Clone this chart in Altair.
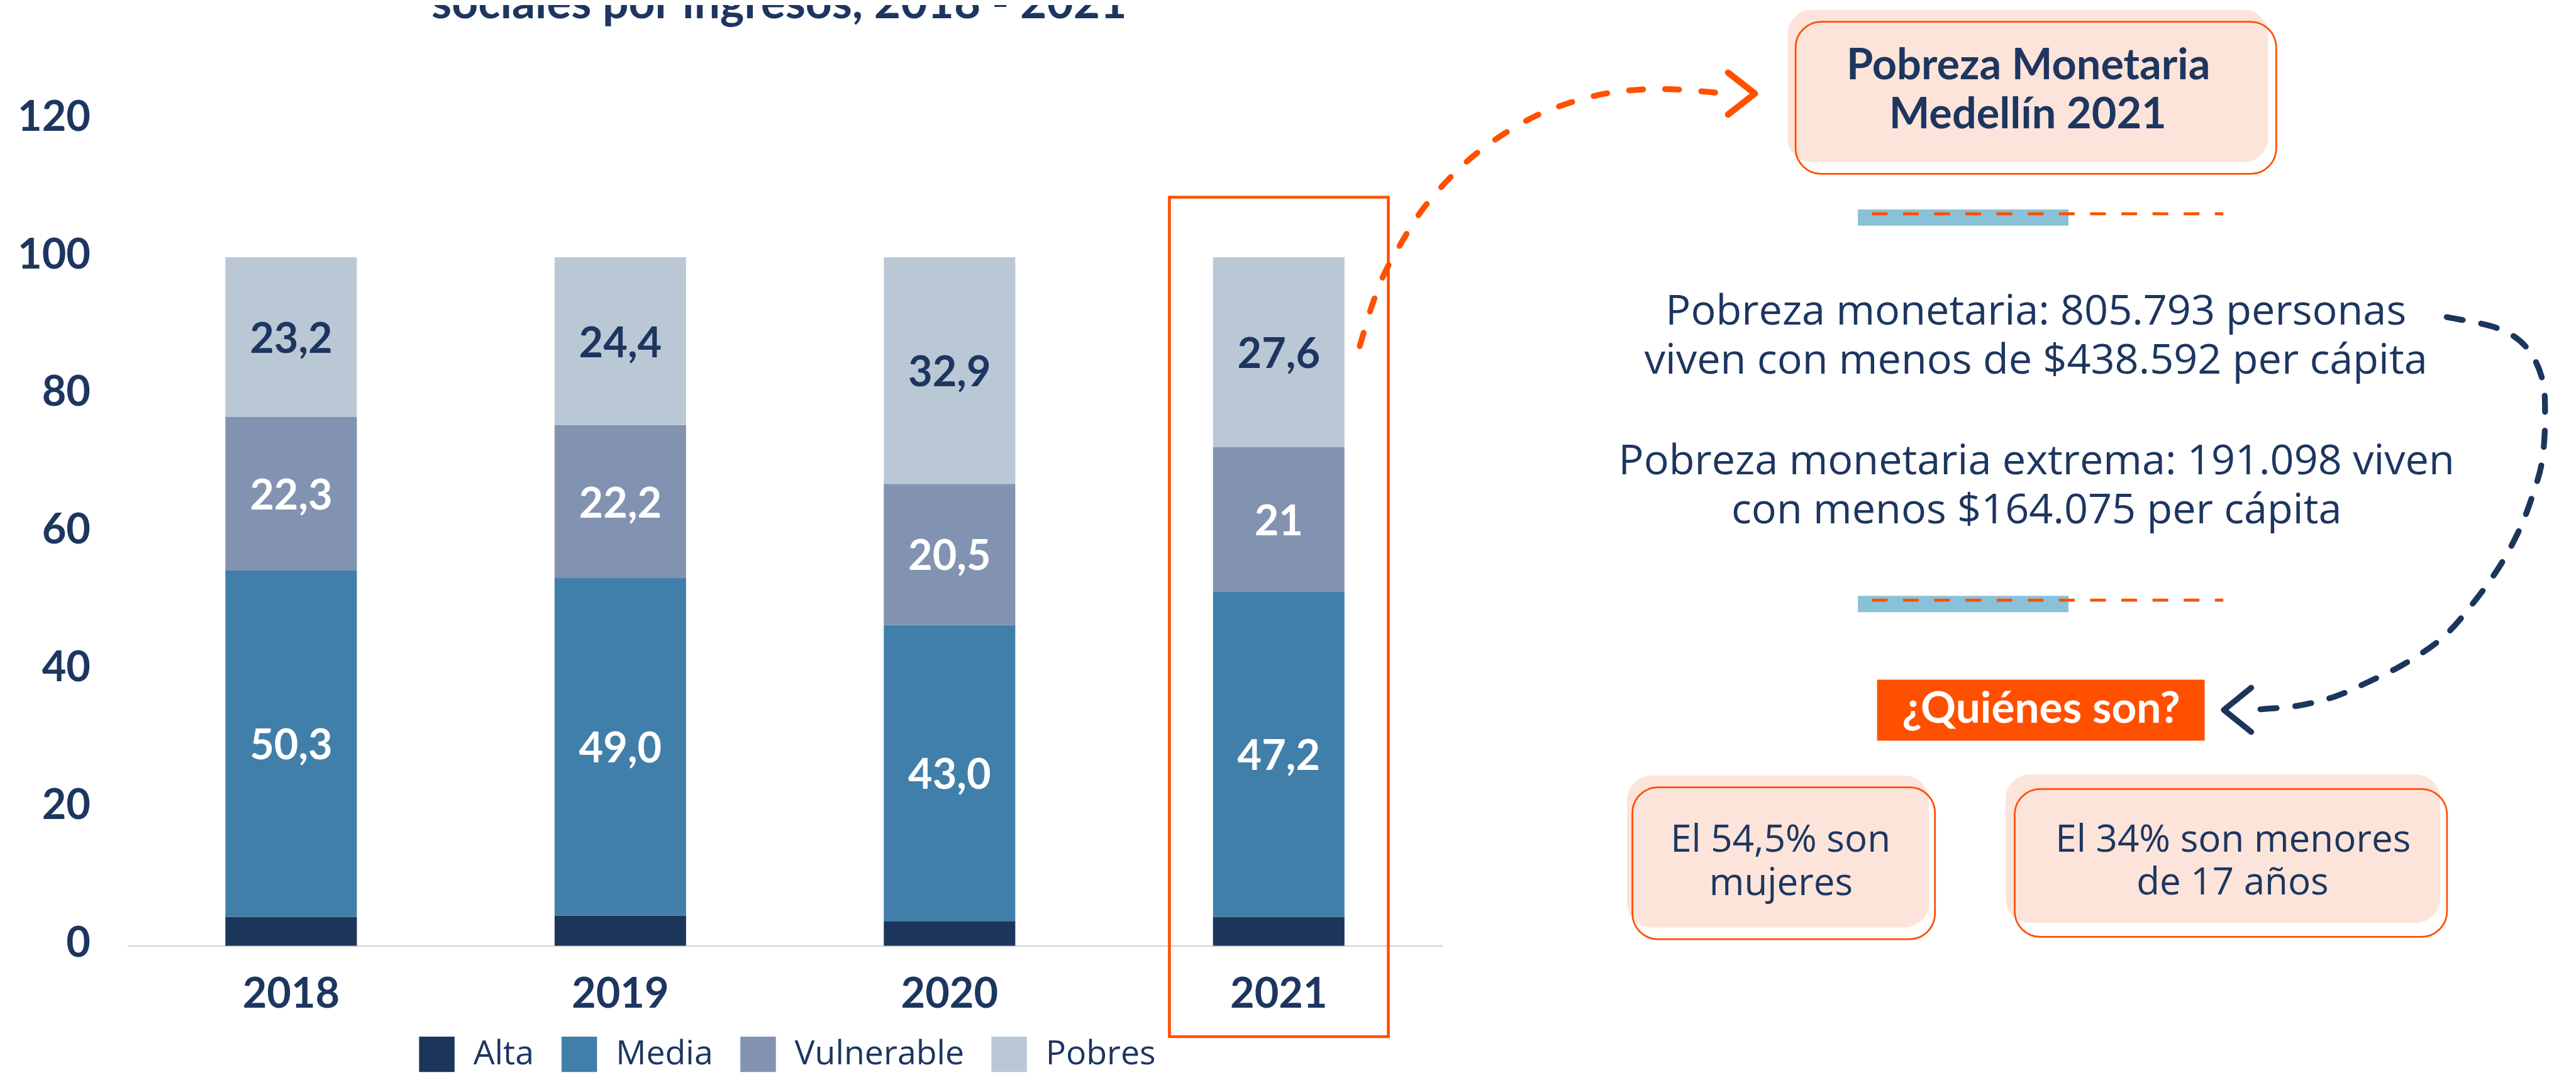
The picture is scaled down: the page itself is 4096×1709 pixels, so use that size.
import altair as alt
import pandas as pd

# ---------------- data ----------------
years = ["2018", "2019", "2020", "2021"]
categories = ["Alta", "Media", "Vulnerable", "Pobres"]
alta = [4.2, 4.4, 3.6, 4.2]
media = [50.3, 49.0, 43.0, 47.2]
vulnerable = [22.3, 22.2, 20.5, 21.0]
pobres = [23.2, 24.4, 32.9, 27.6]
alta_labels = ["", "", "", ""]
media_labels = ["50,3", "49,0", "43,0", "47,2"]
vulnerable_labels = ["22,3", "22,2", "20,5", "21"]
pobres_labels = ["23,2", "24,4", "32,9", "27,6"]
y_ticks = [0, 20, 40, 60, 80, 100, 120]

title_text = "sociales por ingresos, 2018 - 2021"
box_title = ["Pobreza Monetaria", "Medellín 2021"]
para_lines = [
    "Pobreza monetaria: 805.793 personas",
    "viven con menos de $438.592 per cápita",
    "Pobreza monetaria extrema: 191.098 viven",
    "con menos $164.075 per cápita",
]
quienes = "¿Quiénes son?"
box_left = ["El 54,5% son", "mujeres"]
box_right = ["El 34% son menores", "de 17 años"]

# ---------------- colours ----------------
NAVY = "#1c355b"
TEXT = "#1d3660"
C_MEDIA = "#417fab"
C_VULN = "#8193b0"
C_POB = "#bac8d6"
ORANGE = "#ff5000"
PEACH = "#fde4da"
LBLUE = "#89c2d8"
AXIS_GREY = "#d0d0d0"

# ---------------- geometry helpers (reference px -> chart px) ----------------
S = 0.927
PAD_L = S * 219 - 8
W = S * (2479 - 219)
H = S * 1623.3 - 8
TOTAL_W = 4088
TOTAL_H = 1701
PAD_R = TOTAL_W - PAD_L - W
PAD_B = TOTAL_H - H
UNIT = 11.83 * S  # px per value unit


def gx(X):
    return S * (X - 219)


def gy(Y):
    return S * Y - 8


def sz(v):
    return S * v


# ---------------- bar data ----------------
rows = []
series = [alta, media, vulnerable, pobres]
series_labels = [alta_labels, media_labels, vulnerable_labels, pobres_labels]
for i, yr in enumerate(years):
    for j, cat in enumerate(categories):
        rows.append(dict(year=yr, cat=cat, value=series[j][i], ord=j,
                         label=series_labels[j][i]))
df = pd.DataFrame(rows)

xscale = alt.Scale(domain=years, paddingInner=0.6006, paddingOuter=0.2975)
yscale = alt.Scale(domain=[0, H / UNIT], nice=False, zero=True)

xaxis = alt.Axis(domain=True, domainColor=AXIS_GREY, domainWidth=2, ticks=False,
                 grid=False, labelFont="Lato", labelFontWeight="bold",
                 labelFontSize=sz(72), labelColor=TEXT, labelPadding=gy(1729.5) - H,
                 labelBaseline="alphabetic", labelAngle=0, title=None)
yaxis = alt.Axis(values=y_ticks, domain=False, ticks=False, grid=False,
                 labelFont="Lato", labelFontWeight="bold", labelFontSize=sz(72),
                 labelColor=TEXT, labelPadding=PAD_L - (S * 155 - 8),
                 labelBaseline="middle", labelOffset=-3, labelFlush=False,
                 title=None)
legend = alt.Legend(orient="none", legendX=gx(720), legendY=gy(1779),
                    direction="horizontal", title=None, symbolType="square",
                    symbolSize=sz(61) ** 2, symbolStrokeWidth=0,
                    labelFont="Open Sans", labelFontSize=sz(58), labelColor=TEXT,
                    labelOffset=sz(32), columnPadding=sz(42) + 4, padding=0,
                    labelLimit=1000)

bars = alt.Chart(df).mark_bar().encode(
    x=alt.X("year:N", scale=xscale, axis=xaxis),
    y=alt.Y("value:Q", stack="zero", scale=yscale, axis=yaxis),
    color=alt.Color("cat:N", scale=alt.Scale(domain=categories,
                    range=[NAVY, C_MEDIA, C_VULN, C_POB]), legend=legend),
    order=alt.Order("ord:Q", sort="ascending"),
)

lab_base = alt.Chart(df).transform_stack(
    stack="value", groupby=["year"], as_=["v0", "v1"],
    sort=[alt.SortField("ord", order="ascending")],
).transform_calculate(mid="(datum.v0 + datum.v1) / 2")

# same axis specs as the bars so the shared axes merge cleanly
lab_enc = dict(
    x=alt.X("year:N", scale=xscale, axis=xaxis),
    y=alt.Y("mid:Q", scale=yscale, axis=yaxis),
    text="label:N",
)
labels_dark = lab_base.transform_filter("datum.cat == 'Pobres'").mark_text(
    font="Lato", fontWeight="bold", fontSize=sz(72), color=TEXT,
    baseline="middle", dy=5).encode(**lab_enc)
labels_light = lab_base.transform_filter(
    "datum.cat == 'Media' || datum.cat == 'Vulnerable'").mark_text(
    font="Lato", fontWeight="bold", fontSize=sz(72), color="white",
    baseline="middle", dy=5).encode(**lab_enc)

# ---------------- annotation helpers (pixel placed decorations) ----------------
ONE = pd.DataFrame({"k": [0]})


def rect(box, **mark):
    a, b, c, e = box
    return alt.Chart(ONE).mark_rect(**mark).encode(
        x=alt.value(gx(a)), x2=alt.value(gx(b)),
        y=alt.value(gy(c)), y2=alt.value(gy(e)))


def text(t, a, b, **mark):
    return alt.Chart(ONE).mark_text(align="center", baseline="alphabetic",
                                    **mark).encode(
        x=alt.value(gx(a)), y=alt.value(gy(b)), text=alt.value(t))


def hrule(a, b, c, **mark):
    return alt.Chart(ONE).mark_rule(**mark).encode(
        x=alt.value(gx(a)), x2=alt.value(gx(b)), y=alt.value(gy(c)))


def curve(pts, smooth=True, **mark):
    P = [(gx(a), gy(b)) for a, b in pts]
    x0, y0 = P[0]
    R = [(x - x0, y - y0) for x, y in P]
    d = "M{:.2f},{:.2f}".format(*R[0])
    n = len(R)
    for i in range(n - 1):
        p1, p2 = R[i], R[i + 1]
        if smooth:
            p0 = R[i - 1] if i > 0 else R[i]
            p3 = R[i + 2] if i + 2 < n else R[i + 1]
            c1 = (p1[0] + (p2[0] - p0[0]) / 6, p1[1] + (p2[1] - p0[1]) / 6)
            c2 = (p2[0] - (p3[0] - p1[0]) / 6, p2[1] - (p3[1] - p1[1]) / 6)
            d += " C{:.2f},{:.2f} {:.2f},{:.2f} {:.2f},{:.2f}".format(
                c1[0], c1[1], c2[0], c2[1], p2[0], p2[1])
        else:
            d += " L{:.2f},{:.2f}".format(*p2)
    return alt.Chart(ONE).mark_point(shape=d, size=4, filled=False, opacity=1,
                                     **mark).encode(x=alt.value(x0), y=alt.value(y0))


# ---------------- annotations ----------------
layers = [bars, labels_dark, labels_light]

layers.append(text(title_text, 1339, 30, font="Lato", fontWeight="bold",
                   fontSize=sz(79), color=TEXT))

layers.append(rect((2009.8, 2386, 337, 1779.5), fillOpacity=0, stroke=ORANGE,
                   strokeWidth=sz(5)))

# boxes
for box in [(3072, 3898, 15, 277), (2796, 3315, 1331, 1592), (3447, 4194, 1329, 1584)]:
    layers.append(rect(box, color=PEACH, cornerRadius=sz(42)))
for box in [(3086, 3912, 35.5, 297), (2805.5, 3325.5, 1351, 1612),
            (3462.5, 4205.5, 1354, 1608)]:
    layers.append(rect(box, fillOpacity=0, stroke=ORANGE, strokeWidth=sz(3),
                       cornerRadius=sz(44)))

layers.append(text(box_title[0], 3486, 134, font="Lato", fontWeight="bold",
                   fontSize=sz(74), color=TEXT))
layers.append(text(box_title[1], 3485, 219, font="Lato", fontWeight="bold",
                   fontSize=sz(74), color=TEXT))

for yb in [(358, 386), (1022, 1050)]:
    layers.append(rect((3193, 3555, yb[0], yb[1]), color=LBLUE))
for yd in [365.5, 1029.5]:
    layers.append(hrule(3217, 3821, yd, color=ORANGE, strokeWidth=sz(5),
                        strokeDash=[sz(27), sz(26.6)]))

for t, a, b in [(para_lines[0], 3499, 555.7), (para_lines[1], 3499, 640.7),
                (para_lines[2], 3500, 812.7), (para_lines[3], 3500, 897.7)]:
    layers.append(text(t, a, b, font="Open Sans", fontSize=sz(72), color=TEXT))

layers.append(rect((3226, 3789, 1166, 1271), color=ORANGE))
layers.append(text(quienes, 3508, 1240, font="Lato", fontWeight="bold",
                   fontSize=sz(75), color="white"))

for t, a, b in [(box_left[0], 3060, 1462), (box_left[1], 3061, 1536),
                (box_right[0], 3838, 1462), (box_right[1], 3837, 1535)]:
    layers.append(text(t, a, b, font="Open Sans", fontSize=sz(65), color=TEXT))

orange_pts = [(2337, 593), (2355, 532), (2378, 471), (2408, 416), (2442, 362),
              (2484, 312), (2530, 268), (2582, 230), (2638, 198), (2697, 175),
              (2759, 159), (2821, 152), (2885, 152), (2966, 159)]
layers.append(curve(orange_pts, color=ORANGE, strokeWidth=sz(10), strokeCap="round",
                    strokeDash=[sz(24), sz(38)]))
layers.append(curve([(2970, 123), (3016, 159), (2970, 195)], smooth=False,
                    color=ORANGE, strokeWidth=sz(11), strokeCap="round",
                    strokeJoin="round"))

navy_pts = [(4205, 543), (4292, 562), (4342, 595), (4369, 649), (4374, 715),
            (4369, 790), (4353, 848), (4331, 906), (4298, 968), (4254, 1030),
            (4200, 1092), (4134, 1138), (4068, 1171), (4013, 1195), (3948, 1211),
            (3871, 1218)]
layers.append(curve(navy_pts, color=NAVY, strokeWidth=sz(10), strokeCap="round",
                    strokeDash=[sz(28), sz(32)]))
layers.append(curve([(3869, 1180), (3822, 1218), (3869, 1256)], smooth=False,
                    color=NAVY, strokeWidth=sz(10), strokeCap="round",
                    strokeJoin="round"))

chart = alt.layer(*layers).properties(
    width=W, height=H,
    autosize=alt.AutoSizeParams(type="none"),
    padding={"left": PAD_L, "top": 0, "right": PAD_R, "bottom": PAD_B},
    background="white",
).configure_view(strokeWidth=0)

chart.save("out.html", embed_options={"renderer": "svg", "actions": False})
